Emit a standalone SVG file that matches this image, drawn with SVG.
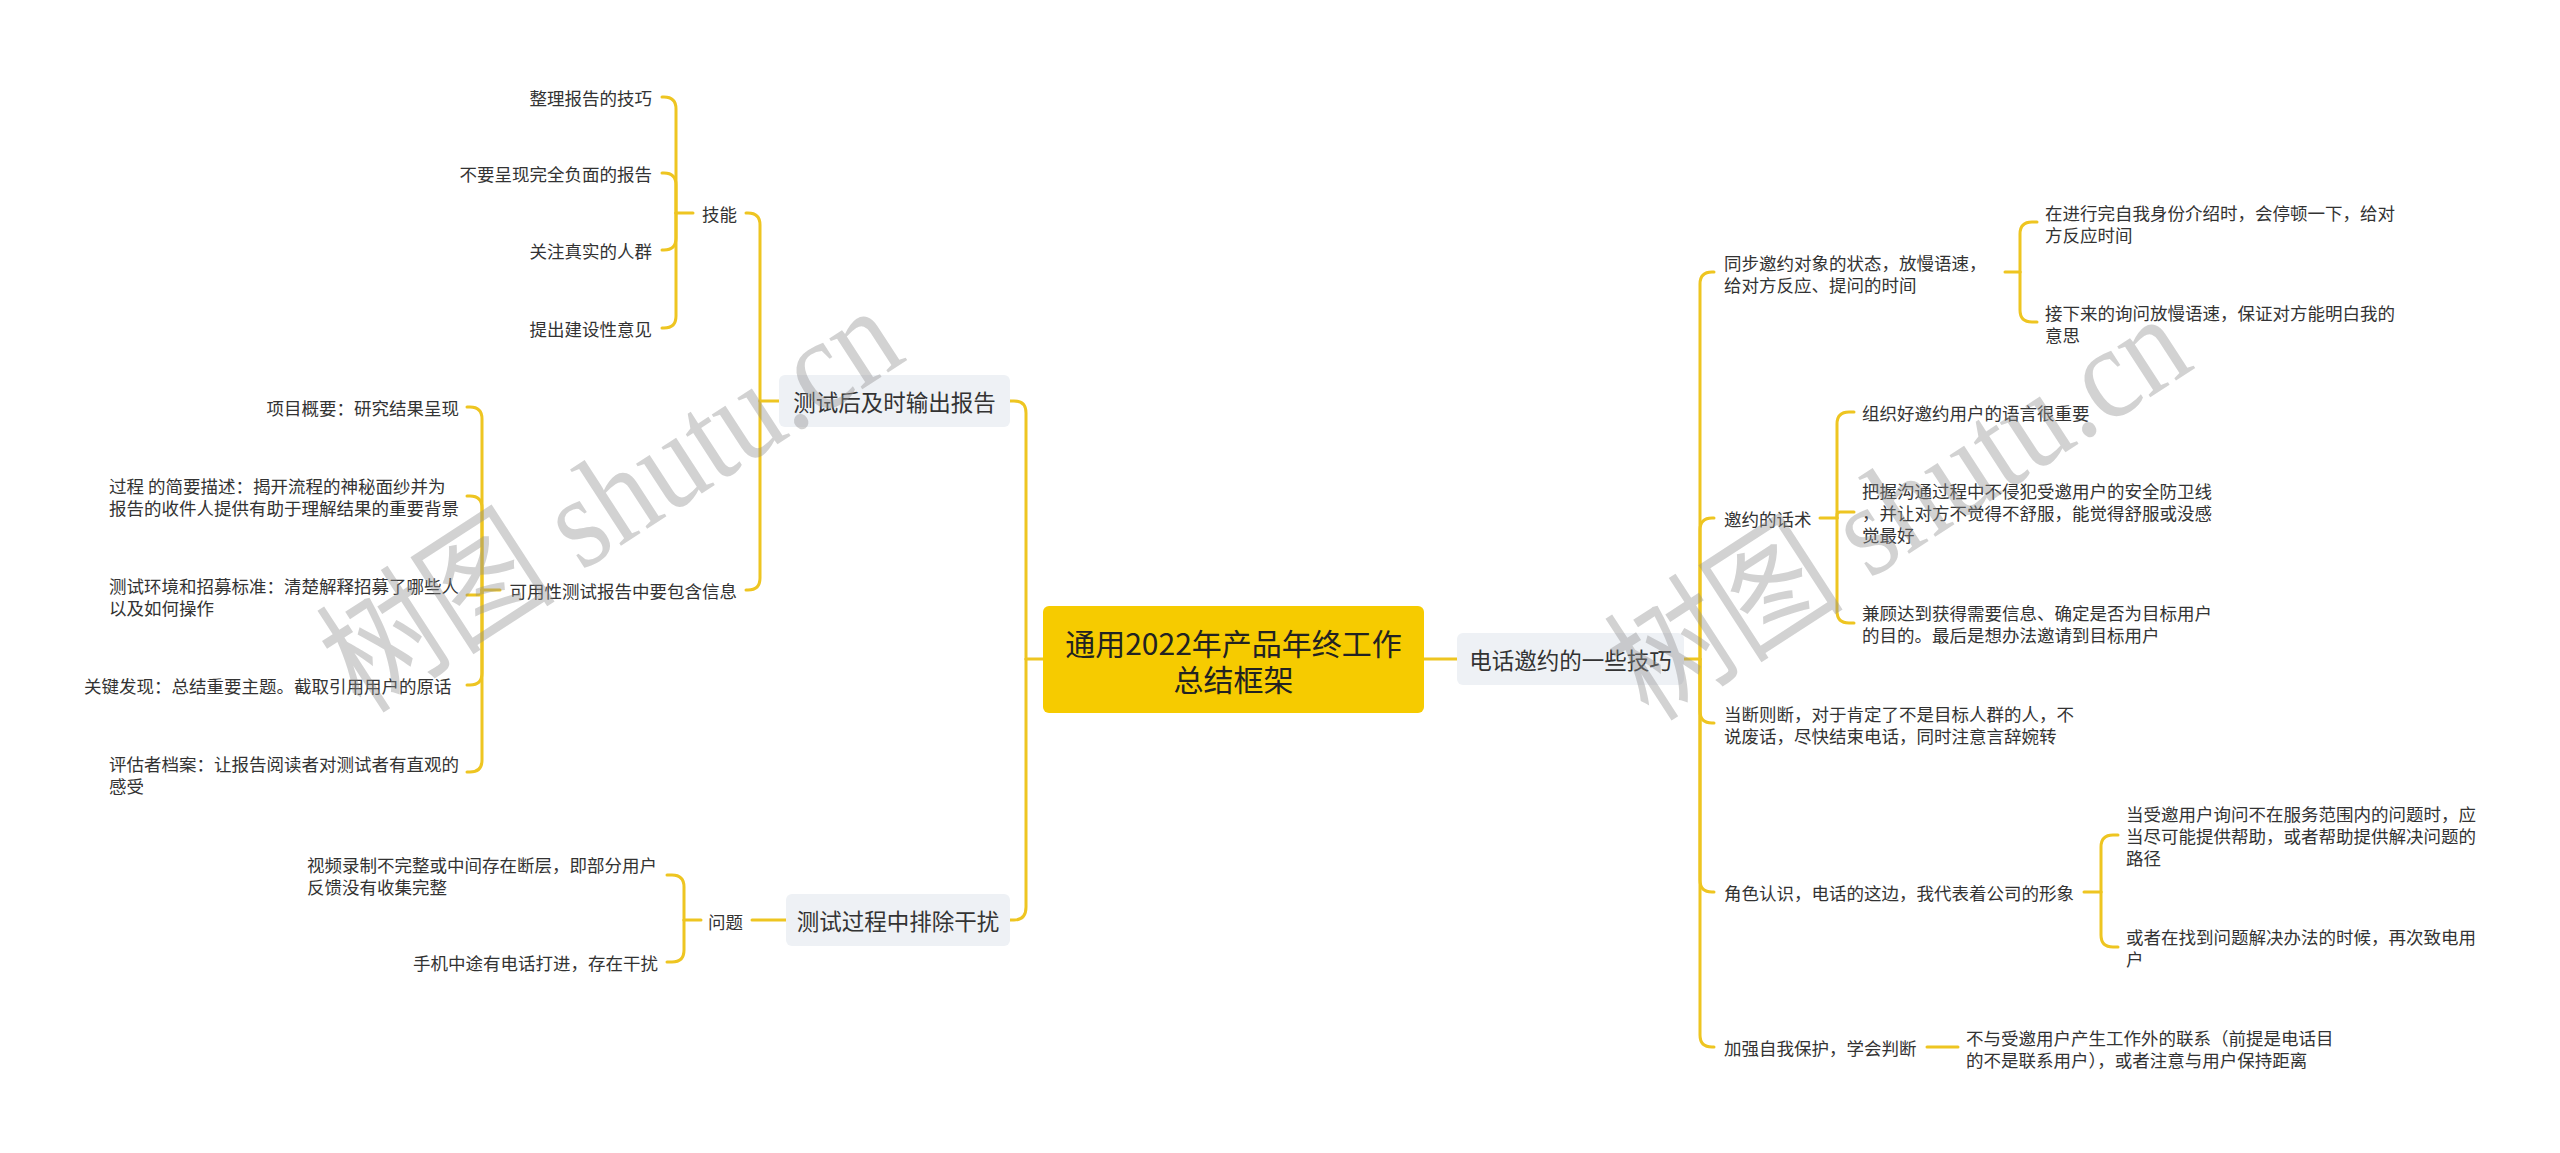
<svg xmlns="http://www.w3.org/2000/svg" width="2560" height="1153" viewBox="0 0 2560 1153">
<style>
text{font-family:"Noto Sans CJK SC","Noto Sans",sans-serif;fill:#333;dominant-baseline:central}
.leaf{font-size:17.5px}
.branch{font-size:22.5px}
.root{font-size:30px;text-anchor:middle;fill:#222}
.end{text-anchor:end}
.mid{text-anchor:middle}
.bbox{fill:#EEF1F5}
.rbox{fill:#F6CB00}
.conn path{fill:none;stroke:#EEC521;stroke-width:3;stroke-linecap:round}
.wm{font-family:"Liberation Serif","Noto Sans CJK SC",serif;font-size:132px;fill:#8f8f8f;fill-opacity:0.4;dominant-baseline:auto}
</style>
<rect width="2560" height="1153" fill="#fff"/>
<g class="conn" id="connectors">
<path d="M1043,659 H1026"/>
<path d="M1026,659 V413 Q1026,401 1014,401 H1010"/>
<path d="M1026,659 V907 Q1026,920 1014,920 H1010"/>
<path d="M1424,659 H1457"/>
<path d="M1684,659 H1700"/>
<path d="M1700,659 V284 Q1700,272 1712,272 H1714"/>
<path d="M1700,659 V530 Q1700,518 1712,518 H1714"/>
<path d="M1700,659 V711 Q1700,723 1712,723 H1714"/>
<path d="M1700,659 V880 Q1700,892 1712,892 H1714"/>
<path d="M1700,659 V1035 Q1700,1047 1712,1047 H1714"/>
<path d="M2005,272 H2020"/>
<path d="M2020,272 V234 Q2020,222 2032,222 H2037"/>
<path d="M2020,272 V310 Q2020,322 2032,322 H2037"/>
<path d="M1820,518 H1837"/>
<path d="M1837,518 V424 Q1837,412 1849,412 H1854"/>
<path d="M1837,518 V515 Q1837,512 1840,512 H1854"/>
<path d="M1837,518 V611 Q1837,623 1849,623 H1854"/>
<path d="M2084,892 H2101"/>
<path d="M2101,892 V847 Q2101,835 2113,835 H2118"/>
<path d="M2101,892 V935 Q2101,947 2113,947 H2118"/>
<path d="M1927,1047 H1958"/>
<path d="M779,401 H760"/>
<path d="M760,401 V225 Q760,213 748,213 H746"/>
<path d="M760,401 V578 Q760,590 748,590 H746"/>
<path d="M693,213 H676"/>
<path d="M676,213 V109 Q676,97 664,97 H662"/>
<path d="M676,213 V185 Q676,173 664,173 H662"/>
<path d="M676,213 V238 Q676,250 664,250 H662"/>
<path d="M676,213 V316 Q676,328 664,328 H662"/>
<path d="M500,590 H482"/>
<path d="M482,590 V419 Q482,407 470,407 H467"/>
<path d="M482,590 V508 Q482,496 470,496 H467"/>
<path d="M482,590 V592 Q482,595 479,595 H467"/>
<path d="M482,590 V673 Q482,685 470,685 H467"/>
<path d="M482,590 V760 Q482,772 470,772 H467"/>
<path d="M786,920 H752"/>
<path d="M701,920 H684"/>
<path d="M684,920 V887 Q684,875 672,875 H667"/>
<path d="M684,920 V950 Q684,962 672,962 H667"/>
</g>
<g id="root">
<rect class="rbox" x="1043" y="606" width="381" height="107" rx="6"/>
<text class="root" x="1233.5" y="642">通用2022年产品年终工作</text>
<text class="root" x="1233.5" y="678">总结框架</text>
</g>
<g id="b-report">
<rect class="bbox" x="779" y="375" width="231" height="52" rx="6"/>
<text class="branch mid" x="894.5" y="401">测试后及时输出报告</text>
</g>
<g id="b-interfere">
<rect class="bbox" x="786" y="894" width="224" height="52" rx="6"/>
<text class="branch mid" x="898" y="920">测试过程中排除干扰</text>
</g>
<g id="b-phone">
<rect class="bbox" x="1457" y="633" width="227" height="52" rx="6"/>
<text class="branch mid" x="1570.5" y="659">电话邀约的一些技巧</text>
</g>
<g id="n-skill"><text class="leaf" x="702" y="213">技能</text></g>
<g id="n-skill-1"><text class="leaf end" x="652" y="97">整理报告的技巧</text></g>
<g id="n-skill-2"><text class="leaf end" x="652" y="173">不要呈现完全负面的报告</text></g>
<g id="n-skill-3"><text class="leaf end" x="652" y="250">关注真实的人群</text></g>
<g id="n-skill-4"><text class="leaf end" x="652" y="328">提出建设性意见</text></g>
<g id="n-info"><text class="leaf end" x="737" y="590">可用性测试报告中要包含信息</text></g>
<g id="n-info-1"><text class="leaf end" x="459" y="407">项目概要：研究结果呈现</text></g>
<g id="n-info-2"><text class="leaf" x="109" y="485">过程 的简要描述：揭开流程的神秘面纱并为</text><text class="leaf" x="109" y="507">报告的收件人提供有助于理解结果的重要背景</text></g>
<g id="n-info-3"><text class="leaf" x="109" y="585">测试环境和招募标准：清楚解释招募了哪些人</text><text class="leaf" x="109" y="607">以及如何操作</text></g>
<g id="n-info-4"><text class="leaf" x="84" y="685">关键发现：总结重要主题。截取引用用户的原话</text></g>
<g id="n-info-5"><text class="leaf" x="109" y="763">评估者档案：让报告阅读者对测试者有直观的</text><text class="leaf" x="109" y="785">感受</text></g>
<g id="n-issue"><text class="leaf" x="708" y="921">问题</text></g>
<g id="n-issue-1"><text class="leaf" x="307" y="864">视频录制不完整或中间存在断层，即部分用户</text><text class="leaf" x="307" y="886">反馈没有收集完整</text></g>
<g id="n-issue-2"><text class="leaf end" x="658" y="962">手机中途有电话打进，存在干扰</text></g>
<g id="n-sync"><text class="leaf" x="1724" y="262">同步邀约对象的状态，放慢语速，</text><text class="leaf" x="1724" y="284">给对方反应、提问的时间</text></g>
<g id="n-sync-1"><text class="leaf" x="2045" y="212">在进行完自我身份介绍时，会停顿一下，给对</text><text class="leaf" x="2045" y="234">方反应时间</text></g>
<g id="n-sync-2"><text class="leaf" x="2045" y="312">接下来的询问放慢语速，保证对方能明白我的</text><text class="leaf" x="2045" y="334">意思</text></g>
<g id="n-talk"><text class="leaf" x="1724" y="518">邀约的话术</text></g>
<g id="n-talk-1"><text class="leaf" x="1862" y="412">组织好邀约用户的语言很重要</text></g>
<g id="n-talk-2"><text class="leaf" x="1862" y="490">把握沟通过程中不侵犯受邀用户的安全防卫线</text><text class="leaf" x="1862" y="512">，并让对方不觉得不舒服，能觉得舒服或没感</text><text class="leaf" x="1862" y="534">觉最好</text></g>
<g id="n-talk-3"><text class="leaf" x="1862" y="612">兼顾达到获得需要信息、确定是否为目标用户</text><text class="leaf" x="1862" y="634">的目的。最后是想办法邀请到目标用户</text></g>
<g id="n-cut"><text class="leaf" x="1724" y="713">当断则断，对于肯定了不是目标人群的人，不</text><text class="leaf" x="1724" y="735">说废话，尽快结束电话，同时注意言辞婉转</text></g>
<g id="n-role"><text class="leaf" x="1724" y="892">角色认识，电话的这边，我代表着公司的形象</text></g>
<g id="n-role-1"><text class="leaf" x="2126" y="813">当受邀用户询问不在服务范围内的问题时，应</text><text class="leaf" x="2126" y="835">当尽可能提供帮助，或者帮助提供解决问题的</text><text class="leaf" x="2126" y="857">路径</text></g>
<g id="n-role-2"><text class="leaf" x="2126" y="936">或者在找到问题解决办法的时候，再次致电用</text><text class="leaf" x="2126" y="958">户</text></g>
<g id="n-protect"><text class="leaf" x="1724" y="1047">加强自我保护，学会判断</text></g>
<g id="n-protect-1"><text class="leaf" x="1966" y="1037">不与受邀用户产生工作外的联系（前提是电话目</text><text class="leaf" x="1966" y="1059">的不是联系用户），或者注意与用户保持距离</text></g>
<g id="watermark">
<text class="wm" transform="translate(362,714) rotate(-33) scale(0.88,1)">树图 shutu.cn</text>
<text class="wm" transform="translate(1650,722) rotate(-33) scale(0.88,1)">树图 shutu.cn</text>
</g>
</svg>
